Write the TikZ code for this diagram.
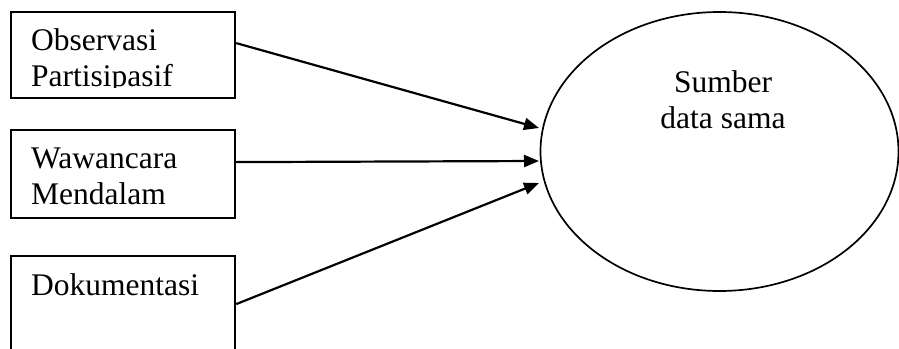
\documentclass[tikz,border=0pt]{standalone}
\usepackage{fontspec}
\setmainfont{Liberation Serif}
\usetikzlibrary{arrows.meta,shapes.geometric}
\begin{document}
\begin{tikzpicture}[x=1pt,y=-1pt,
  box/.style={draw,line width=2.2pt,rectangle,minimum width=224pt,anchor=north west,inner sep=0pt},
  lbl/.style={anchor=base west,inner sep=0pt,font=\fontsize{31.5}{36}\selectfont},
  arr/.style={line width=2.2pt,-{Triangle[length=15pt,width=12pt]}}]
\useasboundingbox (0,0) rectangle (899,348);
\fill[white] (0,0) rectangle (899,348);
% boxes
\node[box,minimum height=86pt] (b1) at (10,11) {};
\node[box,minimum height=88pt] (b2) at (10,129) {};
\node[box,minimum height=110pt] (b3) at (10,255) {};
% texts
\node[lbl] (t1a) at (31,50) {Observasi};
\begin{scope}
\clip (10,55) rectangle (234,87);
\node[lbl] (t1b) at (31,86) {Partisipasif};
\end{scope}
\node[lbl] (t2a) at (31,168) {Wawancara};
\node[lbl] (t2b) at (31,204) {Mendalam};
\node[lbl] (t3a) at (31,295) {Dokumentasi};
% ellipse
\node[draw,ellipse,line width=1.7pt,minimum width=358pt,minimum height=279pt,inner sep=0pt] (src) at (719.5,151.5) {};
\node[lbl,anchor=base] (s1) at (723,92) {Sumber};
\node[lbl,anchor=base] (s2) at (723,128) {data sama};
% arrows
\coordinate (e1) at (539,128);
\coordinate (e2) at (539,161);
\coordinate (e3) at (539,183);
\draw[arr] ([yshift=12pt]b1.east) -- (e1);
\draw[arr] ([yshift=12pt]b2.east) -- (e2);
\draw[arr] ([yshift=7pt]b3.east) -- (e3);
\end{tikzpicture}
\end{document}
